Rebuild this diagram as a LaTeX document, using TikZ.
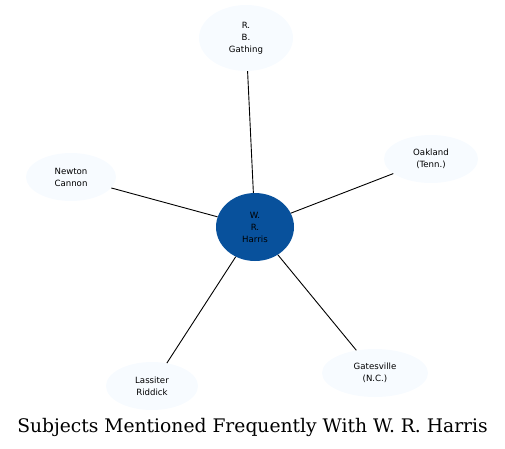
\documentclass[tikz,border=0pt]{standalone}
\usepackage{fontspec}
\setmainfont{DejaVu Serif}
\newfontfamily\nodefont{DejaVu Sans}
\usetikzlibrary{shapes.geometric}
\definecolor{hub}{HTML}{08519C}
\definecolor{leaf}{HTML}{F7FBFF}

\begin{document}
\begin{tikzpicture}[x=1pt, y=-1pt,
  subject/.style={ellipse, fill=leaf, inner sep=0pt, align=center,
    font=\nodefont\fontsize{8.6}{12}\selectfont},
  link/.style={black, line width=0.9pt}]
  \useasboundingbox (0,0) rectangle (505,448);
  \node (harris) [subject, fill=hub, minimum width=78, minimum height=68] at (255,227) {W.\\R.\\Harris};
  \node (gathing) [subject, minimum width=94, minimum height=66] at (246,38) {R.\\B.\\Gathing};
  \node (cannon) [subject, minimum width=90, minimum height=48] at (71,177) {Newton\\Cannon};
  \node (oakland) [subject, minimum width=94, minimum height=48] at (431,159) {Oakland\\(Tenn.)};
  \node (riddick) [subject, minimum width=92, minimum height=48] at (152,386) {Lassiter\\Riddick};
  \node (gatesville) [subject, minimum width=106, minimum height=48] at (375,373) {Gatesville\\(N.C.)};
  \draw[link] (harris) -- (gathing);
  \draw[link] (harris) -- (cannon);
  \draw[link] (harris) -- (oakland);
  \draw[link] (harris) -- (riddick);
  \draw[link] (harris) -- (gatesville);
  \node (caption) at (252.5,427) {\fontsize{18.7}{22}\selectfont Subjects Mentioned Frequently With W. R. Harris};
\end{tikzpicture}
\end{document}
